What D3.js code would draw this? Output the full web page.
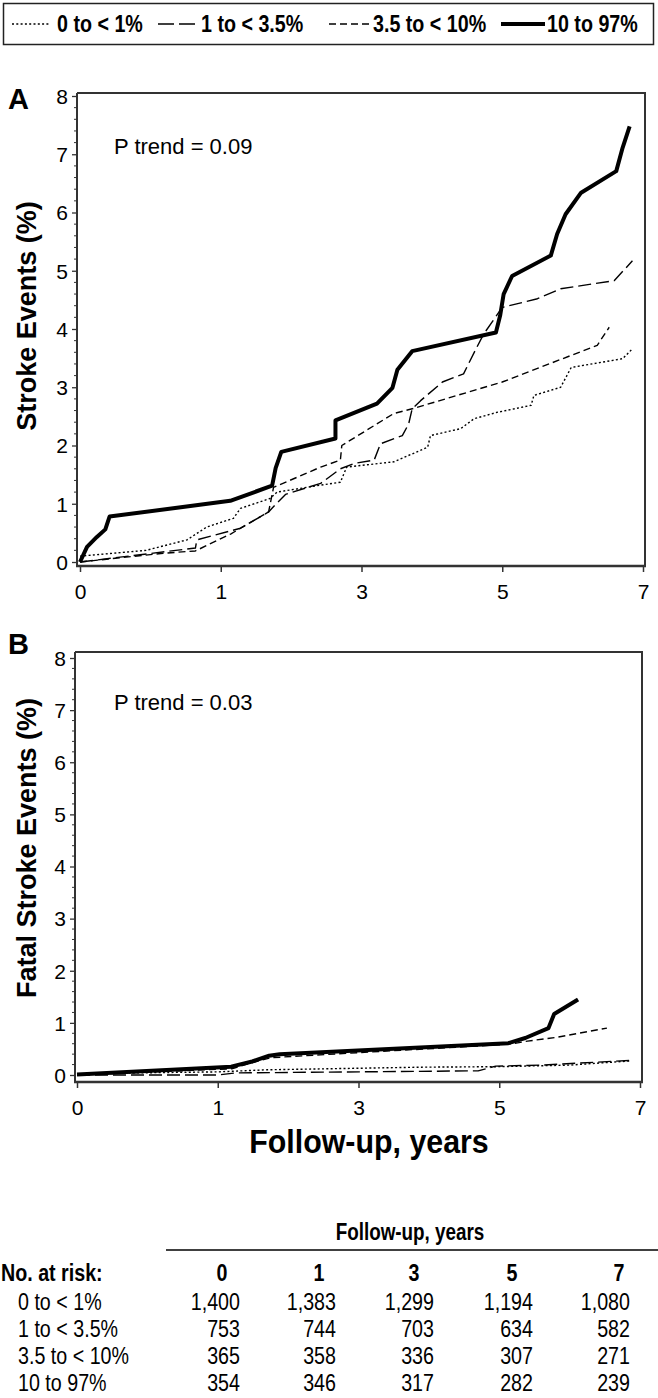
<!DOCTYPE html>
<html><head><meta charset="utf-8">
<script src="https://cdn.jsdelivr.net/npm/d3@7"></script>
<style>
body{margin:0;background:#fff}
svg text{font-family:"Liberation Sans",Arial,Helvetica,sans-serif;fill:#000}
</style>
</head><body>
<svg id="chart" width="658" height="1398"></svg>
<script>
// ---------- data ----------
const groups = ["0 to < 1%", "1 to < 3.5%", "3.5 to < 10%", "10 to 97%"];
const xTickValues = [0, 1, 3, 5, 7];
const yTickValues = [0, 1, 2, 3, 4, 5, 6, 7, 8];

// Panel A: stroke events (%) — [years, percent]
const strokeLow  = [[0,0.1],[0.47,0.2],[0.76,0.38],[0.90,0.6],[1.18,0.75],[1.28,0.92],[1.70,1.09],[1.80,1.20],[2.42,1.32],[2.70,1.37],[2.79,1.63],[3.46,1.72],[3.94,1.97],[3.98,2.17],[4.41,2.29],[4.60,2.46],[4.93,2.57],[5.41,2.69],[5.45,2.86],[5.83,3.0],[5.98,3.34],[6.71,3.49],[6.85,3.66]];
const strokeMid  = [[0,0],[0.82,0.24],[0.83,0.38],[1.28,0.58],[1.68,0.86],[1.78,0.99],[1.92,1.16],[2.42,1.35],[2.70,1.60],[2.89,1.69],[3.18,1.75],[3.27,2.03],[3.58,2.17],[3.67,2.37],[3.72,2.63],[3.84,2.77],[4.15,3.09],[4.45,3.23],[4.64,3.69],[4.74,3.92],[5.00,4.37],[5.50,4.52],[5.83,4.69],[6.59,4.83],[6.85,5.17]];
const strokeHigh = [[0,0],[0.59,0.15],[0.82,0.19],[1.14,0.48],[1.68,0.86],[1.75,1.28],[2.42,1.63],[2.70,1.75],[2.72,2.0],[3.46,2.55],[3.72,2.63],[5.00,3.09],[6.35,3.72],[6.52,4.03]];
const strokeTop  = [[0,0],[0.05,0.26],[0.12,0.43],[0.18,0.56],[0.21,0.78],[1.135,1.05],[1.73,1.31],[1.78,1.61],[1.86,1.89],[2.63,2.12],[2.63,2.43],[3.22,2.72],[3.44,2.99],[3.51,3.30],[3.72,3.62],[4.91,3.94],[4.97,4.23],[5.02,4.60],[5.14,4.91],[5.69,5.26],[5.78,5.63],[5.90,5.97],[6.12,6.34],[6.62,6.71],[6.71,7.11],[6.81,7.48]];

// Panel B: fatal stroke events (%)
const fatalLow  = [[0,0.01],[0.4,0.04],[1.0,0.06],[1.7,0.10],[3.9,0.15],[5.0,0.16],[6.0,0.19],[6.86,0.27]];
const fatalMid  = [[0,0],[1.0,0.0],[1.25,0.04],[4.7,0.08],[4.95,0.17],[5.6,0.19],[6.86,0.28]];
const fatalHigh = [[0,0],[1.2,0.12],[1.5,0.24],[1.75,0.33],[2.1,0.36],[5.0,0.58],[5.2,0.60],[5.4,0.65],[5.8,0.72],[6.53,0.90]];
const fatalTop  = [[0,0.01],[1.19,0.16],[1.49,0.26],[1.73,0.37],[1.88,0.40],[5.13,0.61],[5.37,0.71],[5.70,0.90],[5.78,1.17],[6.12,1.45]];

const pTrendA = "P trend = 0.09";
const pTrendB = "P trend = 0.03";

// Number at risk
const riskYears = ["0", "1", "3", "5", "7"];
const riskLow  = [1400, 1383, 1299, 1194, 1080];
const riskMid  = [753, 744, 703, 634, 582];
const riskHigh = [365, 358, 336, 307, 271];
const riskTop  = [354, 346, 317, 282, 239];

// ---------- styles ----------
const lineStyles = [
  {dash: "2,2.3", width: 1.4},
  {dash: "13,5", width: 1.4},
  {dash: "7,4", width: 1.4},
  {dash: null, width: 4}
];
const axisColor = "#333";
const NARROW = 0.82;

const svg = d3.select("#chart");

function narrowText(parent, x, y, txt, size, opts = {}) {
  const t = parent.append("text")
    .attr("transform", `translate(${x},${y}) scale(${opts.sx || NARROW},1)`)
    .attr("font-size", size)
    .attr("text-anchor", opts.anchor || "start")
    .text(txt);
  if (opts.bold) t.attr("font-weight", "bold");
  return t;
}

// ---------- legend ----------
const legend = svg.append("g");
legend.append("rect").attr("x", 3.5).attr("y", 3.5).attr("width", 650).attr("height", 41)
  .attr("fill", "none").attr("stroke", "#222").attr("stroke-width", 1.5);
const legendItems = [
  {x1: 12, x2: 50, tx: 57},
  {x1: 158, x2: 199, tx: 201},
  {x1: 329, x2: 370, tx: 373},
  {x1: 501, x2: 545, tx: 547}
];
legendItems.forEach((it, i) => {
  const s = lineStyles[i];
  legend.append("line").attr("x1", it.x1).attr("x2", it.x2).attr("y1", 24).attr("y2", 24)
    .attr("stroke", "#000").attr("stroke-width", s.width)
    .attr("stroke-dasharray", i === 1 ? "16,5" : s.dash);
  narrowText(legend, it.tx, 32, groups[i], 24, {bold: true});
});

// ---------- panels ----------
function drawPanel(p) {
  const n = xTickValues.length - 1;
  const x = d3.scaleLinear().domain(xTickValues)
    .range(xTickValues.map((d, i) => p.xl + i * (p.xr - p.xl) / n));
  const y = d3.scaleLinear().domain([0, 8]).range([p.y0, p.y8]);
  const g = svg.append("g");

  g.append("path").attr("d", `M${p.ax},${p.ft}H${p.fr}V${p.ay}`)
    .attr("fill", "none").attr("stroke", axisColor).attr("stroke-width", 2);
  g.append("line").attr("x1", p.ax).attr("x2", p.ax).attr("y1", p.ft).attr("y2", p.ay + 1)
    .attr("stroke", axisColor).attr("stroke-width", 2);
  g.append("line").attr("x1", p.ax - 1).attr("x2", p.fr + 1).attr("y1", p.ay).attr("y2", p.ay)
    .attr("stroke", axisColor).attr("stroke-width", 2.5);

  const xa = g.append("g").attr("transform", `translate(0,${p.ay})`)
    .call(d3.axisBottom(x).tickValues(xTickValues).tickSize(6).tickSizeOuter(0).tickFormat(d3.format("d")));
  xa.select(".domain").remove();
  xa.selectAll("line").attr("stroke", axisColor).attr("stroke-width", 1.5);
  xa.selectAll("text").attr("y", 26).attr("dy", "0.35em").attr("font-size", 21)
    .attr("fill", "#000").style("font-family", '"Liberation Sans",Arial,sans-serif');

  const ya = g.append("g").attr("transform", `translate(${p.ax},0)`)
    .call(d3.axisLeft(y).tickValues(yTickValues).tickSize(5).tickSizeOuter(0).tickFormat(d3.format("d")));
  ya.select(".domain").remove();
  ya.selectAll("line").attr("stroke", axisColor).attr("stroke-width", 1.3);
  ya.selectAll("text").attr("x", -9).attr("dy", "0.35em").attr("font-size", 21)
    .attr("fill", "#000").style("font-family", '"Liberation Sans",Arial,sans-serif');
  const minor = d3.range(0, 8.001, 0.2).filter(v => Math.abs(v - Math.round(v)) > 0.01);
  g.append("g").selectAll("line").data(minor).join("line")
    .attr("x1", p.ax - 3).attr("x2", p.ax).attr("y1", d => y(d)).attr("y2", d => y(d))
    .attr("stroke", axisColor).attr("stroke-width", 1);

  const line = d3.line().x(d => x(d[0])).y(d => y(d[1]));
  p.series.forEach((s, i) => {
    const st = lineStyles[i];
    g.append("path").datum(s).attr("d", line).attr("fill", "none")
      .attr("stroke", "#000").attr("stroke-width", st.width)
      .attr("stroke-dasharray", st.dash).attr("stroke-linejoin", "round");
  });
  g.append("text").attr("x", 114).attr("y", y(7)).attr("font-size", 22).text(p.ptext);
  g.append("text").attr("x", 8).attr("y", p.letterY).attr("font-size", 29)
    .attr("font-weight", "bold").text(p.letter);
  g.append("text").attr("transform", `translate(36,${p.titleY}) rotate(-90)`)
    .attr("text-anchor", "middle").attr("font-size", 27).attr("font-weight", "bold").text(p.ytitle);
  return {x, y};
}

drawPanel({xl: 80, xr: 643, y0: 562, y8: 96, ax: 77, ay: 566, ft: 93, fr: 645,
  series: [strokeLow, strokeMid, strokeHigh, strokeTop], ptext: pTrendA,
  letter: "A", letterY: 109, ytitle: "Stroke Events (%)", titleY: 316});

drawPanel({xl: 77, xr: 640, y0: 1075, y8: 658, ax: 75, ay: 1082, ft: 652, fr: 642,
  series: [fatalLow, fatalMid, fatalHigh, fatalTop], ptext: pTrendB,
  letter: "B", letterY: 654, ytitle: "Fatal Stroke Events (%)", titleY: 848});

// x title
narrowText(svg, 369, 1153, "Follow-up, years", 33, {bold: true, anchor: "middle", sx: 0.92});

// ---------- number at risk table ----------
const table = svg.append("g");
const colCenters = [222, 319, 414, 512, 619];
const numRight = [240, 336, 434, 533, 630];
narrowText(table, 410, 1240, "Follow-up, years", 23, {bold: true, anchor: "middle"});
table.append("line").attr("x1", 166).attr("x2", 658).attr("y1", 1250).attr("y2", 1250)
  .attr("stroke", "#000").attr("stroke-width", 1.5);
narrowText(table, 1, 1281, "No. at risk:", 24, {bold: true});
riskYears.forEach((d, i) => narrowText(table, colCenters[i], 1281, d, 24, {bold: true, anchor: "middle"}));
const rows = [riskLow, riskMid, riskHigh, riskTop];
const rowY = [1310, 1337, 1364, 1391];
const fmt = d3.format(",");
rows.forEach((r, ri) => {
  narrowText(table, 18, rowY[ri], groups[ri], 24);
  r.forEach((v, ci) => narrowText(table, numRight[ci], rowY[ri], fmt(v), 24, {anchor: "end"}));
});
</script>
</body></html>
